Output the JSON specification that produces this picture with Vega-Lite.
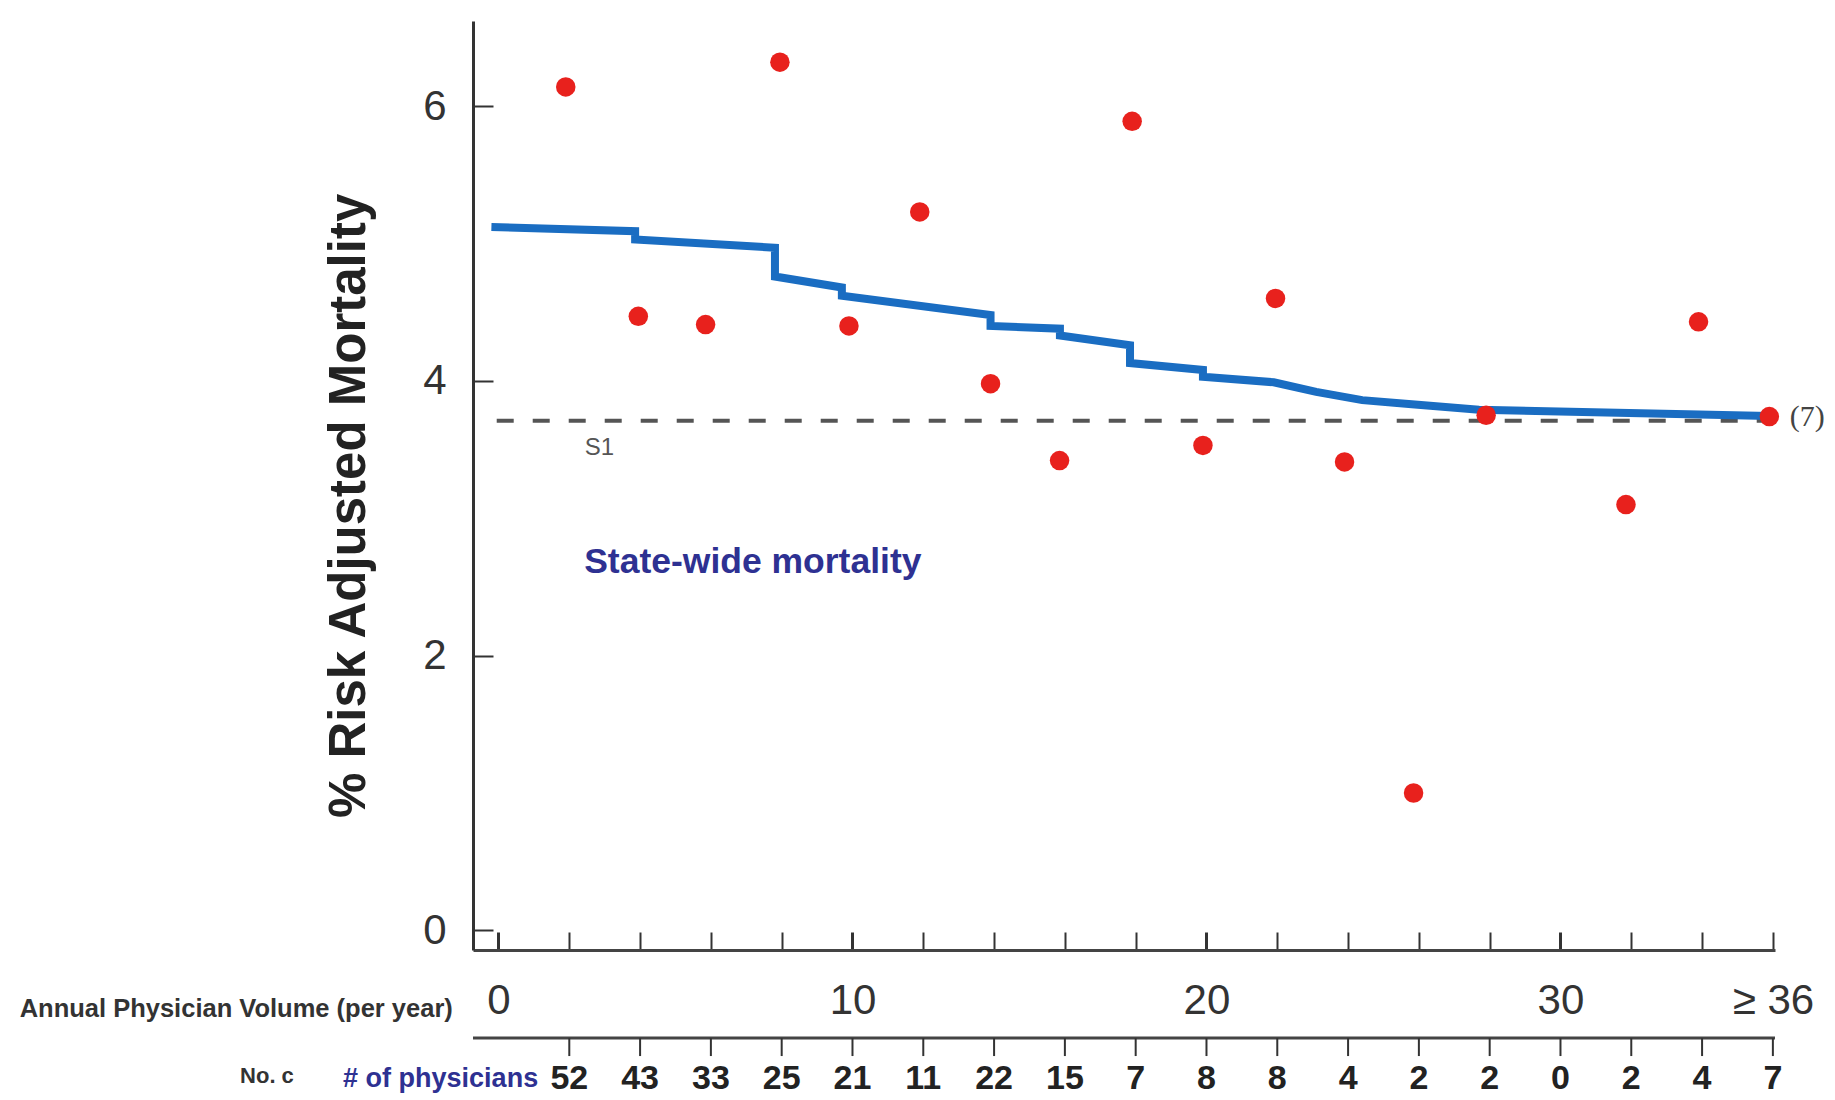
{
  "$schema": "https://vega.github.io/schema/vega-lite/v6.json",
  "width": 1302,
  "height": 929,
  "autosize": "none",
  "padding": {"left": 473, "top": 21, "right": 60, "bottom": 150},
  "background": "white",
  "config": {
    "view": {"stroke": null},
    "font": "Liberation Sans",
    "axis": {"grid": false}
  },
  "datasets": {
    "points": [
      {"volume": 1.9, "mortality": 6.14},
      {"volume": 3.95, "mortality": 4.47},
      {"volume": 5.85, "mortality": 4.41},
      {"volume": 7.95, "mortality": 6.32},
      {"volume": 9.9, "mortality": 4.40},
      {"volume": 11.9, "mortality": 5.23},
      {"volume": 13.9, "mortality": 3.98},
      {"volume": 15.85, "mortality": 3.42},
      {"volume": 17.9, "mortality": 5.89},
      {"volume": 19.9, "mortality": 3.53},
      {"volume": 21.95, "mortality": 4.60},
      {"volume": 23.9, "mortality": 3.41},
      {"volume": 25.85, "mortality": 1.00},
      {"volume": 27.9, "mortality": 3.75},
      {"volume": 31.85, "mortality": 3.10},
      {"volume": 33.9, "mortality": 4.43},
      {"volume": 35.9, "mortality": 3.74}
    ],
    "curve": [
      {"seq": 1, "volume": -0.2, "mortality": 5.12},
      {"seq": 2, "volume": 3.86, "mortality": 5.09},
      {"seq": 3, "volume": 3.86, "mortality": 5.03},
      {"seq": 4, "volume": 7.81, "mortality": 4.97},
      {"seq": 5, "volume": 7.81, "mortality": 4.76},
      {"seq": 6, "volume": 9.7, "mortality": 4.68},
      {"seq": 7, "volume": 9.7, "mortality": 4.62},
      {"seq": 8, "volume": 13.9, "mortality": 4.48},
      {"seq": 9, "volume": 13.9, "mortality": 4.40},
      {"seq": 10, "volume": 15.86, "mortality": 4.38},
      {"seq": 11, "volume": 15.86, "mortality": 4.33},
      {"seq": 12, "volume": 17.84, "mortality": 4.26},
      {"seq": 13, "volume": 17.84, "mortality": 4.13},
      {"seq": 14, "volume": 19.9, "mortality": 4.08},
      {"seq": 15, "volume": 19.9, "mortality": 4.03},
      {"seq": 16, "volume": 21.9, "mortality": 3.99},
      {"seq": 17, "volume": 23.1, "mortality": 3.92},
      {"seq": 18, "volume": 24.4, "mortality": 3.86},
      {"seq": 19, "volume": 25.8, "mortality": 3.83},
      {"seq": 20, "volume": 27.7, "mortality": 3.79},
      {"seq": 21, "volume": 35.9, "mortality": 3.745}
    ],
    "counts": [
      {"volume": 2, "physicians": 52},
      {"volume": 4, "physicians": 43},
      {"volume": 6, "physicians": 33},
      {"volume": 8, "physicians": 25},
      {"volume": 10, "physicians": 21},
      {"volume": 12, "physicians": 11},
      {"volume": 14, "physicians": 22},
      {"volume": 16, "physicians": 15},
      {"volume": 18, "physicians": 7},
      {"volume": 20, "physicians": 8},
      {"volume": 22, "physicians": 8},
      {"volume": 24, "physicians": 4},
      {"volume": 26, "physicians": 2},
      {"volume": 28, "physicians": 2},
      {"volume": 30, "physicians": 0},
      {"volume": 32, "physicians": 2},
      {"volume": 34, "physicians": 4},
      {"volume": 36, "physicians": 7}
    ],
    "statewide": [
      {"from": -0.05, "to": 35.9, "mortality": 3.71}
    ]
  },
  "resolve": {"axis": {"x": "independent", "y": "independent"}},
  "layer": [
    {
      "data": {"name": "statewide"},
      "mark": {"type": "rule", "color": "#555555", "strokeWidth": 4, "strokeDash": [17, 19]},
      "encoding": {
        "x": {"field": "from", "type": "quantitative", "axis": null},
        "x2": {"field": "to"},
        "y": {"field": "mortality", "type": "quantitative", "axis": null}
      }
    },
    {
      "data": {"name": "curve"},
      "mark": {"type": "line", "color": "#1a6dc2", "strokeWidth": 8, "strokeJoin": "miter", "strokeCap": "butt"},
      "encoding": {
        "x": {"field": "volume", "type": "quantitative", "axis": null},
        "y": {"field": "mortality", "type": "quantitative", "axis": null},
        "order": {"field": "seq", "type": "quantitative"}
      }
    },
    {
      "data": {"name": "points"},
      "mark": {"type": "point", "filled": true, "color": "#e8211d", "opacity": 1, "size": 380},
      "encoding": {
        "x": {
          "field": "volume", "type": "quantitative",
          "scale": {"domain": [-0.72, 36.06], "nice": false, "zero": false},
          "axis": {
            "orient": "bottom", "title": null,
            "values": [0, 2, 4, 6, 8, 10, 12, 14, 16, 18, 20, 22, 24, 26, 28, 30, 32, 34, 36],
            "domainColor": "#444444", "domainWidth": 3,
            "tickColor": "#333333", "tickSize": -18,
            "tickWidth": {"condition": {"test": "datum.value % 10 === 0", "value": 3}, "value": 2},
            "labelPadding": 48, "labelFontSize": 42, "labelColor": "#333333",
            "labelFlush": false, "labelOverlap": false,
            "labelExpr": "datum.value == 36 ? '≥ 36' : (datum.value % 10 == 0 ? datum.label : '')"
          }
        },
        "y": {
          "field": "mortality", "type": "quantitative",
          "scale": {"domain": [-0.143, 6.62], "nice": false, "zero": false},
          "axis": {
            "orient": "left", "title": null,
            "values": [0, 2, 4, 6],
            "domainColor": "#333333", "domainWidth": 3,
            "tickColor": "#333333", "tickSize": -20, "tickWidth": 2,
            "labelPadding": 47, "labelFontSize": 42, "labelColor": "#333333", "labelFlush": false
          }
        }
      }
    },
    {
      "data": {"values": [{"label": "% Risk Adjusted Mortality"}]},
      "mark": {"type": "text", "fontSize": 51, "fontWeight": "bold", "color": "#222222", "angle": 270, "align": "center", "baseline": "middle"},
      "encoding": {
        "x": {"datum": -4.2, "type": "quantitative", "axis": null},
        "y": {"datum": 3.09, "type": "quantitative", "axis": null},
        "text": {"field": "label"}
      }
    },
    {
      "data": {"values": [{"from": -0.72, "to": 36.06}]},
      "mark": {"type": "rule", "color": "#444444", "strokeWidth": 3},
      "encoding": {
        "x": {"field": "from", "type": "quantitative", "axis": null},
        "x2": {"field": "to"},
        "y": {"datum": -0.784, "type": "quantitative", "axis": null}
      }
    },
    {
      "data": {"name": "counts"},
      "mark": {"type": "rule", "color": "#333333", "strokeWidth": 2},
      "encoding": {
        "x": {"field": "volume", "type": "quantitative", "axis": null},
        "y": {"datum": -0.784, "type": "quantitative", "axis": null},
        "y2": {"datum": -0.915}
      }
    },
    {
      "data": {"name": "counts"},
      "mark": {"type": "text", "fontSize": 34, "fontWeight": "bold", "color": "#222222", "baseline": "middle", "align": "center"},
      "encoding": {
        "x": {"field": "volume", "type": "quantitative", "axis": null},
        "y": {"datum": -1.08, "type": "quantitative", "axis": null},
        "text": {"field": "physicians"}
      }
    },
    {
      "data": {"values": [{"label": "S1"}]},
      "mark": {"type": "text", "fontSize": 24, "color": "#555555", "align": "left", "baseline": "middle"},
      "encoding": {
        "x": {"datum": 2.44, "type": "quantitative", "axis": null},
        "y": {"datum": 3.51, "type": "quantitative", "axis": null},
        "text": {"field": "label"}
      }
    },
    {
      "data": {"values": [{"label": "State-wide mortality"}]},
      "mark": {"type": "text", "fontSize": 35.5, "fontWeight": "bold", "color": "#2e3192", "align": "left", "baseline": "middle"},
      "encoding": {
        "x": {"datum": 2.42, "type": "quantitative", "axis": null},
        "y": {"datum": 2.68, "type": "quantitative", "axis": null},
        "text": {"field": "label"}
      }
    },
    {
      "data": {"values": [{"label": "(7)"}]},
      "mark": {"type": "text", "font": "Liberation Serif", "fontSize": 30, "color": "#444444", "align": "left", "baseline": "middle"},
      "encoding": {
        "x": {"datum": 36.48, "type": "quantitative", "axis": null},
        "y": {"datum": 3.74, "type": "quantitative", "axis": null},
        "text": {"field": "label"}
      }
    },
    {
      "data": {"values": [{"label": "Annual Physician Volume (per year)"}]},
      "mark": {"type": "text", "fontSize": 25.5, "fontWeight": "bold", "color": "#333333", "align": "right", "baseline": "middle"},
      "encoding": {
        "x": {"datum": -1.29, "type": "quantitative", "axis": null},
        "y": {"datum": -0.572, "type": "quantitative", "axis": null},
        "text": {"field": "label"}
      }
    },
    {
      "data": {"values": [{"label": "No. c"}]},
      "mark": {"type": "text", "fontSize": 22, "fontWeight": "bold", "color": "#333333", "align": "left", "baseline": "middle"},
      "encoding": {
        "x": {"datum": -7.3, "type": "quantitative", "axis": null},
        "y": {"datum": -1.06, "type": "quantitative", "axis": null},
        "text": {"field": "label"}
      }
    },
    {
      "data": {"values": [{"label": "# of physicians"}]},
      "mark": {"type": "text", "fontSize": 27, "fontWeight": "bold", "color": "#2e3192", "align": "left", "baseline": "middle"},
      "encoding": {
        "x": {"datum": -4.39, "type": "quantitative", "axis": null},
        "y": {"datum": -1.08, "type": "quantitative", "axis": null},
        "text": {"field": "label"}
      }
    }
  ]
}
